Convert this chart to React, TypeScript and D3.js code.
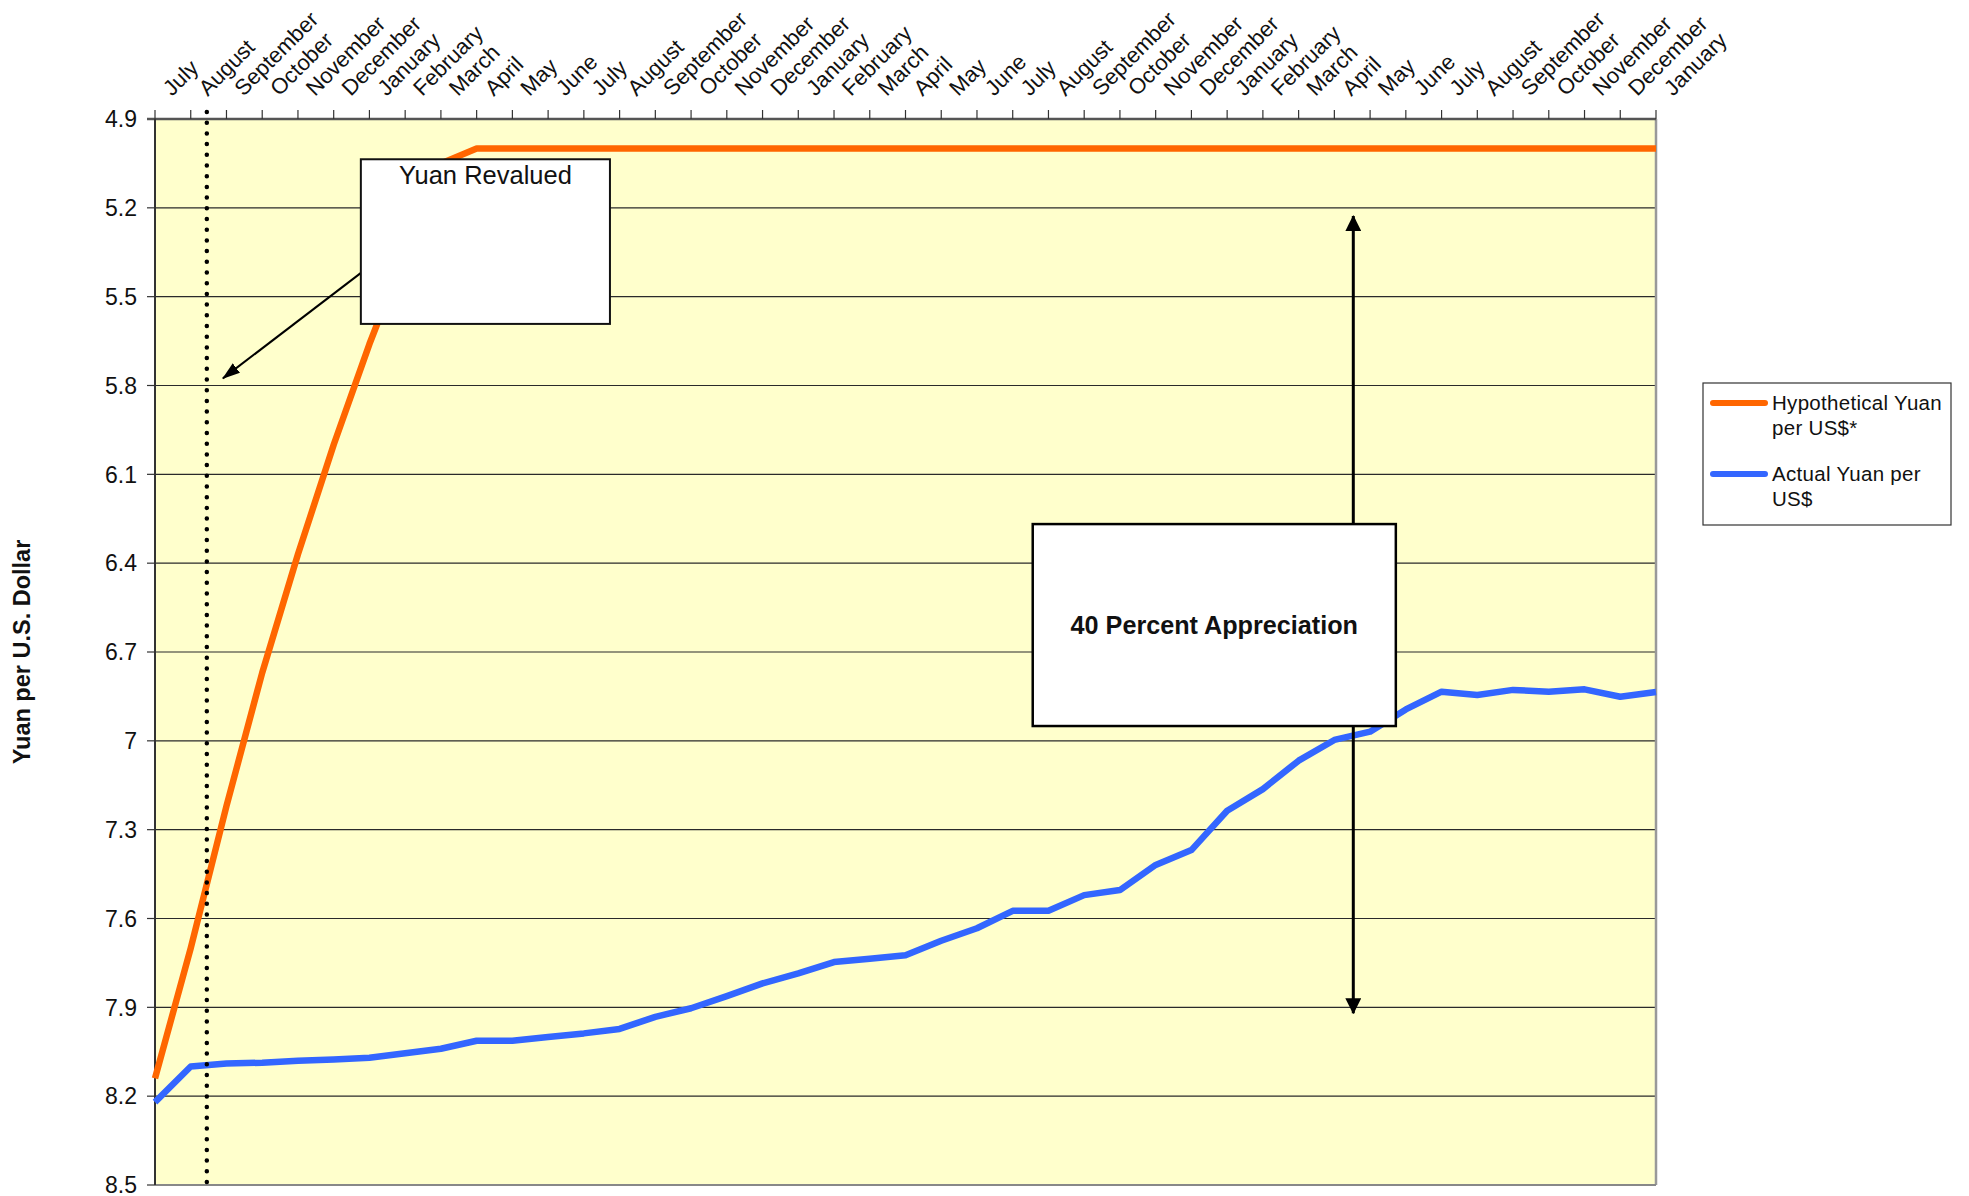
import React from "react";
import * as d3 from "d3";

// Category axis: monthly observations, July 2005 through January 2009
const months = [
  "July", "August", "September", "October", "November", "December",
  "January", "February", "March", "April", "May", "June",
  "July", "August", "September", "October", "November", "December",
  "January", "February", "March", "April", "May", "June",
  "July", "August", "September", "October", "November", "December",
  "January", "February", "March", "April", "May", "June",
  "July", "August", "September", "October", "November", "December",
  "January",
];

// Hypothetical path of the yuan after a one-off 40 percent revaluation
const hypotheticalYuan = [
  8.14, 7.7, 7.22, 6.77, 6.37, 6.0, 5.66, 5.35, 5.05, 5.0,
  5.0, 5.0, 5.0, 5.0, 5.0, 5.0, 5.0, 5.0, 5.0, 5.0,
  5.0, 5.0, 5.0, 5.0, 5.0, 5.0, 5.0, 5.0, 5.0, 5.0,
  5.0, 5.0, 5.0, 5.0, 5.0, 5.0, 5.0, 5.0, 5.0, 5.0,
  5.0, 5.0, 5.0,
];

// Actual yuan per U.S. dollar
const actualYuan = [
  8.22, 8.1, 8.09, 8.087, 8.08, 8.076, 8.07, 8.055, 8.04, 8.013,
  8.013, 8.0, 7.988, 7.973, 7.932, 7.903, 7.862, 7.819, 7.785, 7.747,
  7.736, 7.724, 7.675, 7.633, 7.574, 7.574, 7.521, 7.504, 7.419, 7.369,
  7.236, 7.163, 7.067, 6.997, 6.969, 6.894, 6.834, 6.845, 6.828, 6.834,
  6.826, 6.851, 6.835,
];

const yTicks = [4.9, 5.2, 5.5, 5.8, 6.1, 6.4, 6.7, 7.0, 7.3, 7.6, 7.9, 8.2, 8.5];
const yTickLabels = ["4.9", "5.2", "5.5", "5.8", "6.1", "6.4", "6.7", "7", "7.3", "7.6", "7.9", "8.2", "8.5"];

const seriesNames = [
  ["Hypothetical Yuan", "per US$*"],
  ["Actual Yuan per", "US$"],
];

// Annotation anchors, in (month index, yuan) units
const revaluationIndex = 1.45;
const revaluedBox = { i0: 5.76, i1: 12.73, v0: 5.036, v1: 5.592 };
const revaluedArrow = { from: [5.9, 5.407], to: [1.9, 5.776] };
const appreciationBox = { i0: 24.56, i1: 34.72, v0: 6.268, v1: 6.95 };
const appreciationArrow = { i: 33.53, top: 5.228, bottom: 7.92 };

const W = 1969;
const H = 1196;
const M = { left: 155, right: 1656, top: 119, bottom: 1185 };

const ORANGE = "#FF6600";
const BLUE = "#3366FF";
const FONT = "'Liberation Sans', Arial, Helvetica, sans-serif";

export default function App() {
  const x = d3
    .scaleLinear()
    .domain([0, months.length - 1])
    .range([M.left, M.right]);
  const y = d3.scaleLinear().domain([4.9, 8.5]).range([M.top, M.bottom]);

  const line = d3
    .line<number>()
    .x((_, i) => x(i))
    .y((d) => y(d))
    .curve(d3.curveLinear);

  const catIdx = d3.range(months.length);

  return (
    <svg
      width={W}
      height={H}
      style={{ position: "absolute", left: 0, top: 0, display: "block" }}
      fontFamily={FONT}
    >
      <defs>
        <marker
          id="headSmall"
          markerUnits="userSpaceOnUse"
          viewBox="0 0 18 12"
          refX="17"
          refY="6"
          markerWidth="18"
          markerHeight="12"
          orient="auto"
        >
          <path d="M0,0 L18,6 L0,12 Z" fill="#000" />
        </marker>
        <marker
          id="headBig"
          markerUnits="userSpaceOnUse"
          viewBox="0 0 16 16"
          refX="15"
          refY="8"
          markerWidth="16"
          markerHeight="16"
          orient="auto-start-reverse"
        >
          <path d="M0,0 L16,8 L0,16 Z" fill="#000" />
        </marker>
      </defs>

      <rect x={0} y={0} width={W} height={H} fill="#fff" />

      {/* plot background */}
      <rect
        x={M.left}
        y={M.top}
        width={M.right - M.left}
        height={M.bottom - M.top}
        fill="#FFFFCC"
      />

      {/* horizontal gridlines */}
      {yTicks.map((t) => (
        <line
          key={"g" + t}
          x1={M.left}
          x2={M.right}
          y1={y(t)}
          y2={y(t)}
          stroke="#2a2a2a"
          strokeWidth={1.2}
        />
      ))}

      {/* y tick marks and labels */}
      {yTicks.map((t, k) => (
        <g key={"yt" + t}>
          <line x1={M.left - 8} x2={M.left} y1={y(t)} y2={y(t)} stroke="#333" strokeWidth={1.2} />
          <text
            x={M.left - 18}
            y={y(t)}
            dy="0.36em"
            textAnchor="end"
            fontSize={23}
            fill="#111"
          >
            {yTickLabels[k]}
          </text>
        </g>
      ))}

      {/* y axis title */}
      <text
        transform={`translate(30, ${(M.top + M.bottom) / 2}) rotate(-90)`}
        textAnchor="middle"
        fontSize={23.5}
        fontWeight="bold"
        fill="#111"
      >
        Yuan per U.S. Dollar
      </text>

      {/* right and bottom frame */}
      <line x1={M.right} x2={M.right} y1={M.top} y2={M.bottom} stroke="#999" strokeWidth={2.5} />
      <line x1={M.left} x2={M.right} y1={M.bottom} y2={M.bottom} stroke="#888" strokeWidth={2} />

      {/* category axis along the top */}
      <line x1={M.left - 8} x2={M.right} y1={M.top} y2={M.top} stroke="#555" strokeWidth={2.6} />
      <line x1={M.left} x2={M.left} y1={M.top} y2={M.bottom} stroke="#333" strokeWidth={2} />
      {catIdx.map((i) => (
        <line key={"xt" + i} x1={x(i)} x2={x(i)} y1={M.top - 9} y2={M.top} stroke="#333" strokeWidth={1.2} />
      ))}
      {months.map((m, i) => (
        <text
          key={"xl" + i}
          transform={`translate(${x(i) + 17}, 97) rotate(-45)`}
          textAnchor="start"
          fontSize={22}
          fill="#111"
        >
          {m}
        </text>
      ))}

      {/* series */}
      <path d={line(hypotheticalYuan) ?? ""} fill="none" stroke={ORANGE} strokeWidth={6.5} strokeLinejoin="round" />
      <path d={line(actualYuan) ?? ""} fill="none" stroke={BLUE} strokeWidth={6.5} strokeLinejoin="round" />

      {/* revaluation date marker */}
      <line
        x1={x(revaluationIndex)}
        x2={x(revaluationIndex)}
        y1={M.top - 7}
        y2={M.bottom}
        stroke="#000"
        strokeWidth={4.5}
        strokeLinecap="round"
        strokeDasharray="0 10.7"
      />

      {/* "Yuan Revalued" callout */}
      <line
        x1={x(revaluedArrow.from[0])}
        y1={y(revaluedArrow.from[1])}
        x2={x(revaluedArrow.to[0])}
        y2={y(revaluedArrow.to[1])}
        stroke="#000"
        strokeWidth={2}
        markerEnd="url(#headSmall)"
      />
      <rect
        x={x(revaluedBox.i0)}
        y={y(revaluedBox.v0)}
        width={x(revaluedBox.i1) - x(revaluedBox.i0)}
        height={y(revaluedBox.v1) - y(revaluedBox.v0)}
        fill="#fff"
        stroke="#111"
        strokeWidth={2}
      />
      <text
        x={(x(revaluedBox.i0) + x(revaluedBox.i1)) / 2}
        y={y(revaluedBox.v0) + 25}
        textAnchor="middle"
        fontSize={25.5}
        fill="#111"
      >
        Yuan Revalued
      </text>

      {/* 40 percent appreciation span */}
      <line
        x1={x(appreciationArrow.i)}
        x2={x(appreciationArrow.i)}
        y1={y(appreciationArrow.top)}
        y2={y(appreciationArrow.bottom)}
        stroke="#000"
        strokeWidth={3}
        markerStart="url(#headBig)"
        markerEnd="url(#headBig)"
      />
      <rect
        x={x(appreciationBox.i0)}
        y={y(appreciationBox.v0)}
        width={x(appreciationBox.i1) - x(appreciationBox.i0)}
        height={y(appreciationBox.v1) - y(appreciationBox.v0)}
        fill="#fff"
        stroke="#000"
        strokeWidth={2.5}
      />
      <text
        x={(x(appreciationBox.i0) + x(appreciationBox.i1)) / 2}
        y={(y(appreciationBox.v0) + y(appreciationBox.v1)) / 2}
        dy="0.36em"
        textAnchor="middle"
        fontSize={25.2}
        fontWeight="bold"
        fill="#111"
      >
        40 Percent Appreciation
      </text>

      {/* legend */}
      <g>
        <rect x={1703} y={383} width={248} height={142} fill="#fff" stroke="#333" strokeWidth={1.2} />
        {seriesNames.map((lines, k) => {
          const top = k === 0 ? 403 : 474;
          return (
            <g key={"lg" + k}>
              <line
                x1={1713}
                x2={1765}
                y1={top}
                y2={top}
                stroke={k === 0 ? ORANGE : BLUE}
                strokeWidth={6}
                strokeLinecap="round"
              />
              {lines.map((t, j) => (
                <text
                  key={j}
                  x={1772}
                  y={top + 7 + j * 25}
                  fontSize={20.5}
                  letterSpacing={0.3}
                  fill="#111"
                >
                  {t}
                </text>
              ))}
            </g>
          );
        })}
      </g>
    </svg>
  );
}
